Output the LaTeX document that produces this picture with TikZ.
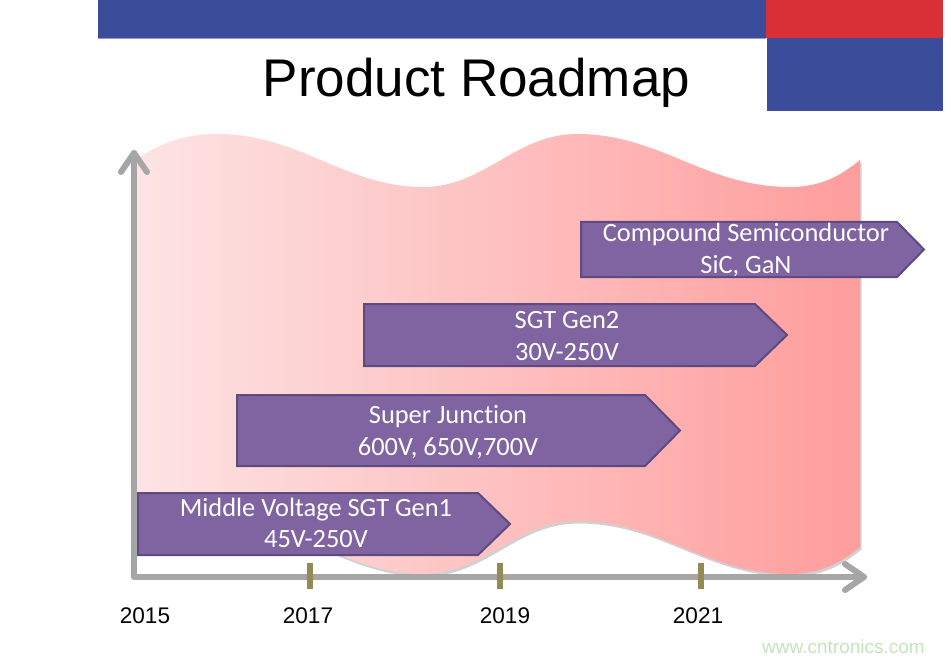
\documentclass[tikz,border=0pt]{standalone}
\usepackage{fontspec}
\setmainfont{Liberation Sans}
\newfontfamily\boxfont[Ligatures=NoCommon]{Carlito}
\definecolor{barblue}{HTML}{3B4C9B}
\definecolor{barred}{HTML}{D93037}
\definecolor{pinkL}{HTML}{FDE4E4}
\definecolor{pinkR}{HTML}{FE9D9C}
\definecolor{axisgray}{HTML}{A6A6A6}
\definecolor{tickolive}{HTML}{948A54}
\definecolor{boxfill}{HTML}{8064A2}
\definecolor{boxline}{HTML}{5C4A80}
\definecolor{wmgreen}{HTML}{C4E4BC}
\tikzset{
  stepbox/.style={fill=boxfill, draw=boxline, line width=2pt, line join=miter},
  boxtext/.style={text=white, font=\boxfont\fontsize{26.4}{31.5}\selectfont, align=center, inner sep=0pt},
  axisline/.style={draw=axisgray, line width=6pt, line join=round, line cap=round},
  tickmark/.style={draw=tickolive, line width=6pt},
  yearlabel/.style={font=\fontsize{22.6}{26}\selectfont, anchor=base, inner sep=0pt}
}
\begin{document}
\begin{tikzpicture}[x=1pt,y=-1pt]
\useasboundingbox (0,0) rectangle (945,663);
\fill[white] (0,0) rectangle (945,663);
% top bars
\fill[barblue] (98,0) rectangle (766,38);
\draw[barblue!55, line width=1pt] (98,38.5) -- (766,38.5);
\fill[barred] (766,0) rectangle (943,38);
\fill[barblue] (767,38) rectangle (943,111);
\node[font=\fontsize{53}{60}\selectfont, anchor=base, inner sep=0pt] (title) at (476.5,97) {Product Roadmap};
% wavy background
\path[preaction={fill=black, opacity=0.18, transform canvas={shift={(1.5,2.5)}}},
      left color=pinkL, right color=pinkR]
  (135,160) .. controls (160,143) and (185,134) .. (217,134)
  .. controls (300,134) and (345,187) .. (423,187)
  .. controls (485,187) and (515,134) .. (577,134)
  .. controls (660,134) and (705,187) .. (790,187)
  .. controls (825,187) and (845,172) .. (860,160)
  -- (860,547)
  .. controls (845,559) and (825,574) .. (790,574)
  .. controls (705,574) and (660,521) .. (577,521)
  .. controls (515,521) and (485,574) .. (423,574)
  .. controls (345,574) and (300,521) .. (217,521)
  .. controls (185,521) and (160,530) .. (135,547) -- cycle;
% axes
\coordinate (ytop) at (134,153);
\coordinate (origin) at (134,577);
\coordinate (xend) at (864,577);
\draw[axisline] (ytop) -- (origin) -- (xend);
\draw[axisline] (121,172) -- (ytop) -- (147,172);
\draw[axisline] (845,564) -- (xend) -- (845,590);
% ticks
\draw[tickmark] (310,563) -- (310,589);
\draw[tickmark] (500,563) -- (500,589);
\draw[tickmark] (701,563) -- (701,589);
% year labels
\node[yearlabel] (y2015) at (145,623) {2015};
\node[yearlabel] (y2017) at (308,623) {2017};
\node[yearlabel] (y2019) at (505,623) {2019};
\node[yearlabel] (y2021) at (698,623) {2021};
% arrow boxes
\draw[stepbox] (138,493) -- (478,493) -- (510,524) -- (478,555) -- (138,555) -- cycle;
\node[boxtext] (gen1) at (316,523) {Middle Voltage SGT Gen1\\45V-250V};
\draw[stepbox] (237,395) -- (645,395) -- (680,430.5) -- (645,466) -- (237,466) -- cycle;
\node[boxtext] (sj) at (448,432) {Super Junction\\600V, 650V,700V};
\draw[stepbox] (364,304) -- (755,304) -- (787,335) -- (755,366) -- (364,366) -- cycle;
\node[boxtext] (gen2) at (567,336) {SGT Gen2\\30V-250V};
\draw[stepbox] (581,222) -- (897,222) -- (924,249.5) -- (897,277) -- (581,277) -- cycle;
\node[boxtext] (comp) at (746,250) {Compound Semiconductor\\SiC, GaN};
% watermark
\node[font=\fontsize{19}{22}\selectfont, text=wmgreen, anchor=base west, inner sep=0pt] (wm) at (762,653) {www.cntronics.com};
\end{tikzpicture}
\end{document}
